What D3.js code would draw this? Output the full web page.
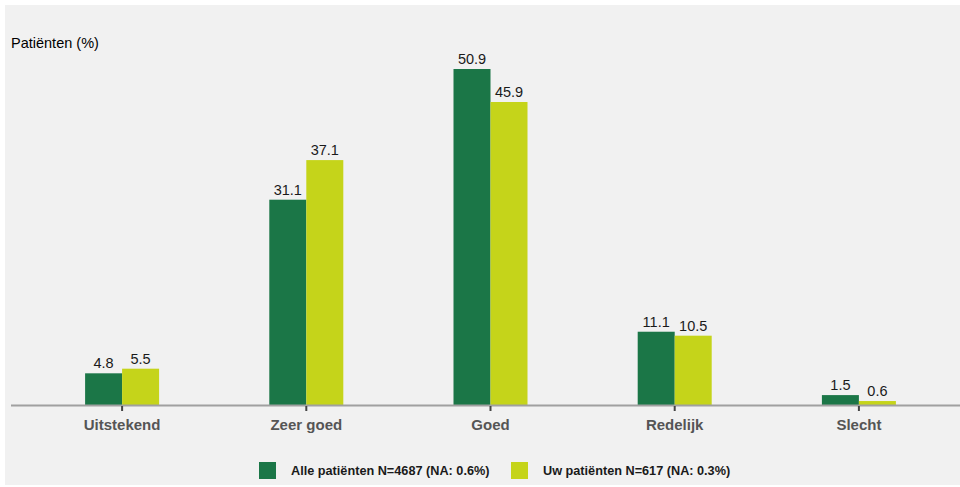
<!DOCTYPE html>
<html><head><meta charset="utf-8">
<script src="https://cdn.jsdelivr.net/npm/d3@7"></script>
<style>body{margin:0;background:#fff}svg{display:block;font-family:"Liberation Sans",Arial,sans-serif}</style>
</head><body><svg id="c" width="960" height="487"></svg>
<script>
const categories = ["Uitstekend","Zeer goed","Goed","Redelijk","Slecht"];
const seriesNames = ["Alle patiënten N=4687 (NA: 0.6%)","Uw patiënten N=617 (NA: 0.3%)"];
const allePatienten = [4.8, 31.1, 50.9, 11.1, 1.5];
const uwPatienten = [5.5, 37.1, 45.9, 10.5, 0.6];
const yLabel = "Patiënten (%)";
const colors = ["#1b7647","#c5d41a"];

const svg = d3.select("#c");
svg.append("rect").attr("x",5).attr("y",5).attr("width",955).attr("height",480).attr("fill","#f1f1f1");

const baseY = 405;
const y = d3.scaleLinear().domain([0,50.9]).range([baseY,69]);
const x = d3.scaleBand().domain(categories).range([30,951]);
const x1 = d3.scaleBand().domain([0,1]).range([x.bandwidth()/2-37, x.bandwidth()/2+37]);

const series = [allePatienten, uwPatienten];
const g = svg.append("g");
categories.forEach((c,i)=>{
  series.forEach((s,j)=>{
    const bx = x(c)+x1(j);
    g.append("rect").attr("x",bx).attr("y",y(s[i])).attr("width",x1.bandwidth()).attr("height",baseY-y(s[i])).attr("fill",colors[j]);
    g.append("text").attr("x",bx+x1.bandwidth()/2).attr("y",y(s[i])-5).attr("text-anchor","middle")
      .attr("font-size",14.5).attr("fill","#1a1a1a").text(s[i].toFixed(1));
  });
});

// axis line
svg.append("line").attr("x1",11).attr("x2",960).attr("y1",baseY+0.5).attr("y2",baseY+0.5).attr("stroke","#a0a0a0").attr("stroke-width",2);
const ax = svg.append("g").attr("transform",`translate(0,${baseY+1})`)
  .call(d3.axisBottom(x).tickSize(5).tickPadding(8).tickSizeOuter(0));
ax.select(".domain").remove();
ax.selectAll(".tick line").attr("stroke","#444").attr("stroke-width",2);
ax.selectAll(".tick text").attr("font-size",15).attr("font-weight","bold").attr("fill","#555").attr("font-family","Liberation Sans, Arial, sans-serif");

svg.append("text").attr("x",11).attr("y",48).attr("font-size",14.5).attr("fill","#000").text(yLabel);

// legend
const legX = [259, 511];
seriesNames.forEach((n,j)=>{
  svg.append("rect").attr("x",legX[j]).attr("y",462).attr("width",17).attr("height",17).attr("fill",colors[j]);
  svg.append("text").attr("x",legX[j]+32).attr("y",475).attr("font-size",12.7).attr("font-weight","bold").attr("fill","#1a1a1a").text(n);
});
</script></body></html>
